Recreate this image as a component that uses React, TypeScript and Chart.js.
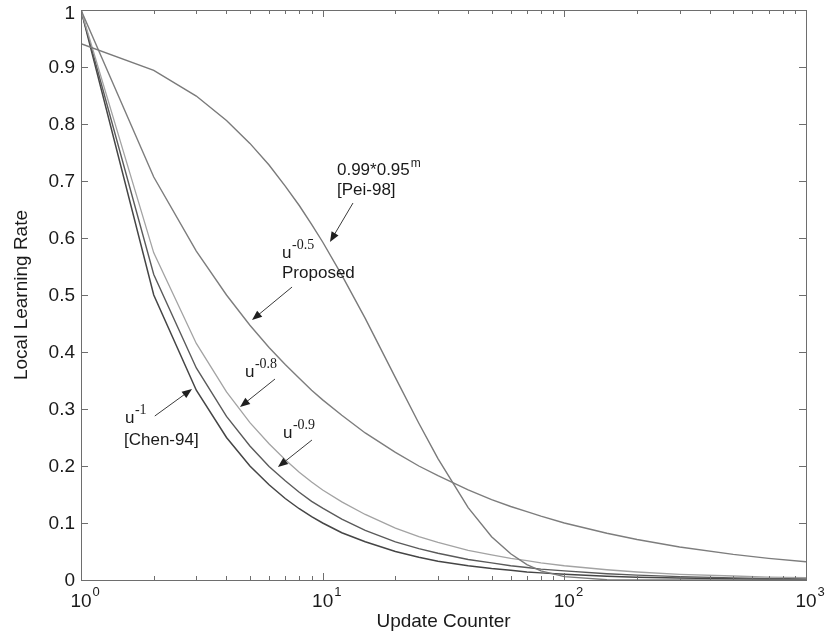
import React, { useEffect, useRef } from "react";
import { Chart, registerables } from "chart.js";

Chart.register(...registerables);

// Update counter sample positions
const updateCounter = [1, 2, 3, 4, 5, 6, 7, 8, 9, 10, 12, 15, 20, 25, 30, 40, 50, 60, 70, 80, 100, 150, 200, 300, 500, 700, 1000];

// Local learning rate curves
const chen94 = [1, 0.5, 0.333, 0.25, 0.2, 0.167, 0.143, 0.125, 0.111, 0.1, 0.083, 0.067, 0.05, 0.04, 0.033, 0.025, 0.02, 0.017, 0.014, 0.0125, 0.01, 0.0067, 0.005, 0.0033, 0.002, 0.0014, 0.001];
const uPow09 = [1, 0.536, 0.372, 0.287, 0.235, 0.199, 0.174, 0.154, 0.138, 0.126, 0.107, 0.087, 0.067, 0.055, 0.047, 0.036, 0.03, 0.025, 0.022, 0.019, 0.016, 0.011, 0.0085, 0.006, 0.0037, 0.0027, 0.002];
const uPow08 = [1, 0.574, 0.415, 0.33, 0.276, 0.239, 0.211, 0.189, 0.172, 0.158, 0.137, 0.115, 0.091, 0.076, 0.066, 0.052, 0.044, 0.038, 0.034, 0.03, 0.025, 0.018, 0.014, 0.01, 0.007, 0.005, 0.004];
const proposed = [1, 0.707, 0.577, 0.5, 0.447, 0.408, 0.378, 0.354, 0.333, 0.316, 0.289, 0.258, 0.224, 0.2, 0.183, 0.158, 0.141, 0.129, 0.12, 0.112, 0.1, 0.082, 0.071, 0.058, 0.045, 0.038, 0.032];
const pei98 = [0.941, 0.894, 0.849, 0.806, 0.766, 0.728, 0.691, 0.657, 0.624, 0.593, 0.535, 0.459, 0.355, 0.275, 0.213, 0.127, 0.076, 0.046, 0.027, 0.016, 0.006, 0.0005, 0.0, 0.0, 0.0, 0.0, 0.0];

const yTicks = [0, 0.1, 0.2, 0.3, 0.4, 0.5, 0.6, 0.7, 0.8, 0.9, 1];
const yTickLabels = ["0", "0.1", "0.2", "0.3", "0.4", "0.5", "0.6", "0.7", "0.8", "0.9", "1"];
const xDecades = [1, 10, 100, 1000];
const xDecadeExponents = ["0", "1", "2", "3"];

// Annotations in data coordinates
type Note = {
  base: string;
  sup: string;
  supSerif: boolean;
  second: string;
  tx: number;
  ty: number;
  sx: number;
  sy: number;
  fromX: number;
  fromY: number;
  toX: number;
  toY: number;
};
const notes: Note[] = [
  { base: "0.99*0.95", sup: "m", supSerif: false, second: "[Pei-98]", tx: 11.46, ty: 0.7105, sx: 11.46, sy: 0.6754, fromX: 13.35, fromY: 0.6614, toX: 10.72, toY: 0.593 },
  { base: "u", sup: "-0.5", supSerif: true, second: "Proposed", tx: 6.79, ty: 0.5649, sx: 6.79, sy: 0.5298, fromX: 7.47, fromY: 0.514, toX: 5.1, toY: 0.456 },
  { base: "u", sup: "-0.8", supSerif: true, second: "", tx: 4.77, ty: 0.3561, sx: 0, sy: 0, fromX: 6.35, fromY: 0.3526, toX: 4.55, toY: 0.3035 },
  { base: "u", sup: "-0.9", supSerif: true, second: "", tx: 6.85, ty: 0.2491, sx: 0, sy: 0, fromX: 9.03, fromY: 0.2456, toX: 6.53, toY: 0.1982 },
  { base: "u", sup: "-1", supSerif: true, second: "[Chen-94]", tx: 1.52, ty: 0.2754, sx: 1.506, sy: 0.2368, fromX: 2.02, fromY: 0.2877, toX: 2.88, toY: 0.3351 },
];

const SANS = "'Liberation Sans', Arial, Helvetica, sans-serif";
const SERIF = "'Liberation Serif', 'Times New Roman', serif";

const axesPlugin = {
  id: "matlabAxes",
  afterDatasetsDraw(chart: any) {
    const ctx = chart.ctx as CanvasRenderingContext2D;
    const xs = chart.scales.x;
    const ys = chart.scales.y;
    const a = chart.chartArea;
    ctx.save();
    // box
    ctx.strokeStyle = "#6e6e6e";
    ctx.lineWidth = 1;
    ctx.strokeRect(Math.round(a.left) + 0.5, Math.round(a.top) + 0.5, Math.round(a.right - a.left), Math.round(a.bottom - a.top));
    // y ticks
    ctx.beginPath();
    yTicks.forEach((v) => {
      const py = Math.round(ys.getPixelForValue(v)) + 0.5;
      ctx.moveTo(a.left, py);
      ctx.lineTo(a.left + 7, py);
      ctx.moveTo(a.right, py);
      ctx.lineTo(a.right - 7, py);
    });
    // x ticks (major + minor)
    xDecades.forEach((d, i) => {
      const px = Math.round(xs.getPixelForValue(d)) + 0.5;
      ctx.moveTo(px, a.bottom);
      ctx.lineTo(px, a.bottom - 7);
      ctx.moveTo(px, a.top);
      ctx.lineTo(px, a.top + 7);
      if (i < xDecades.length - 1) {
        for (let k = 2; k <= 9; k++) {
          const mx = Math.round(xs.getPixelForValue(d * k)) + 0.5;
          ctx.moveTo(mx, a.bottom);
          ctx.lineTo(mx, a.bottom - 4);
          ctx.moveTo(mx, a.top);
          ctx.lineTo(mx, a.top + 4);
        }
      }
    });
    ctx.stroke();

    // y tick labels
    ctx.fillStyle = "#1a1a1a";
    ctx.font = `19px ${SANS}`;
    ctx.textAlign = "right";
    ctx.textBaseline = "middle";
    yTicks.forEach((v, i) => {
      let py = ys.getPixelForValue(v);
      if (v === 1) py += 3;
      ctx.fillText(yTickLabels[i], a.left - 6, py + 1);
    });
    // x tick labels
    ctx.textBaseline = "alphabetic";
    xDecades.forEach((d, i) => {
      const px = xs.getPixelForValue(d);
      ctx.font = `19px ${SANS}`;
      ctx.textAlign = "center";
      ctx.fillText("10", px, a.bottom + 27);
      const w = ctx.measureText("10").width;
      ctx.font = `13px ${SANS}`;
      ctx.textAlign = "left";
      ctx.fillText(xDecadeExponents[i], px + w / 2 + 1, a.bottom + 16);
    });
    // axis titles
    ctx.font = `19px ${SANS}`;
    ctx.textAlign = "center";
    ctx.fillText("Update Counter", (a.left + a.right) / 2, a.bottom + 47);
    ctx.save();
    ctx.translate(27, (a.top + a.bottom) / 2);
    ctx.rotate(-Math.PI / 2);
    ctx.fillText("Local Learning Rate", 0, 0);
    ctx.restore();

    // annotations
    notes.forEach((n) => {
      const tx = xs.getPixelForValue(n.tx);
      const ty = ys.getPixelForValue(n.ty);
      ctx.fillStyle = "#1a1a1a";
      ctx.textAlign = "left";
      ctx.font = `17px ${SANS}`;
      ctx.fillText(n.base, tx, ty);
      const bw = ctx.measureText(n.base).width;
      if (n.supSerif) {
        ctx.font = `14px ${SERIF}`;
        ctx.fillText(n.sup, tx + bw + 0.5, ty - 9);
      } else {
        ctx.font = `12px ${SANS}`;
        ctx.fillText(n.sup, tx + bw + 1, ty - 8);
      }
      if (n.second) {
        ctx.font = `17px ${SANS}`;
        ctx.fillText(n.second, xs.getPixelForValue(n.sx), ys.getPixelForValue(n.sy));
      }
      // arrow
      const x0 = xs.getPixelForValue(n.fromX);
      const y0 = ys.getPixelForValue(n.fromY);
      const x1 = xs.getPixelForValue(n.toX);
      const y1 = ys.getPixelForValue(n.toY);
      const ang = Math.atan2(y1 - y0, x1 - x0);
      const hl = 10;
      const hw = 4;
      ctx.strokeStyle = "#3a3a3a";
      ctx.lineWidth = 1;
      ctx.beginPath();
      ctx.moveTo(x0, y0);
      ctx.lineTo(x1 - Math.cos(ang) * hl * 0.8, y1 - Math.sin(ang) * hl * 0.8);
      ctx.stroke();
      ctx.fillStyle = "#1f1f1f";
      ctx.beginPath();
      ctx.moveTo(x1, y1);
      const bx = x1 - Math.cos(ang) * hl;
      const by = y1 - Math.sin(ang) * hl;
      ctx.lineTo(bx + Math.sin(ang) * hw, by - Math.cos(ang) * hw);
      ctx.lineTo(bx - Math.sin(ang) * hw, by + Math.cos(ang) * hw);
      ctx.closePath();
      ctx.fill();
    });
    ctx.restore();
  },
};

function series(ys: number[]) {
  return updateCounter.map((x, i) => ({ x, y: ys[i] }));
}

export default function App() {
  const ref = useRef<HTMLCanvasElement | null>(null);
  useEffect(() => {
    if (!ref.current) return;
    const mk = (label: string, ys: number[], color: string, width: number) => ({
      label,
      data: series(ys),
      borderColor: color,
      borderWidth: width,
      pointRadius: 0,
      fill: false,
      tension: 0,
    });
    const chart = new Chart(ref.current, {
      type: "line",
      data: {
        datasets: [
          mk("0.99*0.95^m [Pei-98]", pei98, "#7a7a7a", 1.4),
          mk("u^-0.5 Proposed", proposed, "#7d7d7d", 1.4),
          mk("u^-0.8", uPow08, "#a3a3a3", 1.3),
          mk("u^-0.9", uPow09, "#5a5a5a", 1.4),
          mk("u^-1 [Chen-94]", chen94, "#454545", 1.5),
        ],
      },
      options: {
        animation: false,
        responsive: false,
        devicePixelRatio: 1,
        layout: { padding: { left: 81, top: 10, right: 20, bottom: 57 } },
        plugins: { legend: { display: false }, tooltip: { enabled: false } },
        scales: {
          x: { type: "logarithmic", min: 1, max: 1000, display: false },
          y: { type: "linear", min: 0, max: 1, display: false },
        },
      },
      plugins: [axesPlugin],
    });
    return () => chart.destroy();
  }, []);
  return (
    <div style={{ position: "absolute", left: 0, top: 0, width: 826, height: 637, background: "#fff" }}>
      <canvas ref={ref} width={826} height={637} />
    </div>
  );
}
